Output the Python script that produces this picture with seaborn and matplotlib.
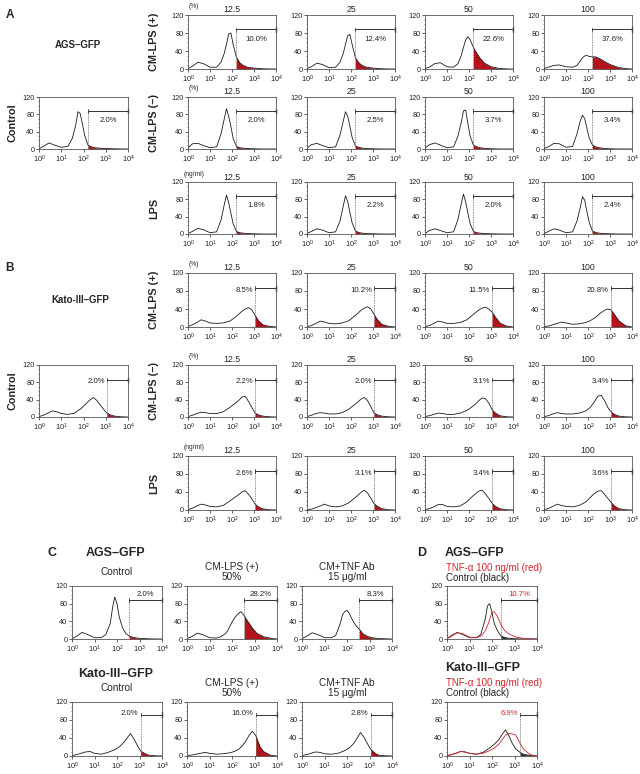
import numpy as np
import matplotlib.pyplot as plt
import seaborn as sns
from matplotlib.ticker import LogLocator, NullFormatter, MultipleLocator

# GFP fluorescence (log10 decade) at which each histogram was read
grid_a = [0.0, 0.2, 0.45, 0.7, 1.0, 1.3, 1.5, 1.65, 1.75, 1.85, 1.95, 2.05, 2.2, 2.35, 2.5, 2.7, 3.0, 3.4, 3.8, 4.0]
grid_b = [0.0, 0.2, 0.4, 0.6, 0.8, 1.0, 1.3, 1.6, 1.9, 2.1, 2.3, 2.45, 2.6, 2.75, 2.9, 3.05, 3.2, 3.4, 3.7, 4.0]
grid_c = [0.0, 0.2, 0.45, 0.7, 1.0, 1.3, 1.5, 1.7, 1.8, 1.9, 2.0, 2.1, 2.25, 2.4, 2.55, 2.7, 2.9, 3.1, 3.4, 3.8, 4.0]
grid_k = [0.0, 0.2, 0.4, 0.6, 0.8, 1.0, 1.3, 1.6, 1.9, 2.1, 2.3, 2.45, 2.6, 2.75, 2.9, 3.05, 3.25, 3.4, 3.7, 4.0]

doses = ['12.5', '25', '50', '100']

# A: AGS-GFP, cell counts (%)
a_control = [1, 6, 14, 9, 4, 6, 25, 55, 86, 82, 58, 32, 9, 5, 3, 2, 1, 0.5, 0, 0]
a_cm_pos = [
    [1, 6, 15, 12, 4, 4, 15, 35, 55, 78, 80, 55, 26, 14, 8, 4, 2, 0.5, 0, 0],
    [1, 5, 13, 10, 3, 4, 15, 35, 55, 74, 77, 55, 25, 14, 8, 4, 2, 0.5, 0, 0],
    [1, 4, 12, 14, 5, 4, 12, 30, 48, 65, 72, 65, 48, 35, 24, 13, 5, 1, 0, 0],
    [1, 4, 8, 9, 5, 4, 8, 18, 25, 29, 30, 28, 27, 27, 24, 18, 10, 3, 0.5, 0],
]
a_cm_neg = [
    [2, 12, 13, 8, 3, 5, 35, 70, 93, 75, 52, 25, 6, 3, 2, 1, 0.5, 0, 0, 0],
    [2, 10, 13, 8, 3, 5, 32, 65, 86, 76, 52, 27, 7, 4, 2, 1, 0.5, 0, 0, 0],
    [2, 10, 14, 9, 3, 5, 30, 62, 88, 90, 58, 30, 9, 5, 3, 1.5, 0.5, 0, 0, 0],
    [1, 5, 13, 12, 4, 6, 35, 65, 78, 70, 48, 26, 9, 5, 3, 1.5, 0.5, 0, 0, 0],
]
a_lps = [
    [1, 6, 13, 10, 3, 5, 32, 68, 90, 72, 48, 24, 6, 3, 2, 1, 0.5, 0, 0, 0],
    [1, 6, 12, 9, 3, 5, 30, 65, 88, 75, 50, 26, 7, 3.5, 2, 1, 0.5, 0, 0, 0],
    [1, 8, 12, 8, 3, 5, 34, 70, 92, 74, 48, 24, 6, 3, 2, 1, 0.5, 0, 0, 0],
    [1, 6, 12, 9, 3, 5, 30, 62, 86, 78, 52, 28, 7, 3.5, 2, 1, 0.5, 0, 0, 0],
]
a_control_pct = '2.0%'
a_cm_pos_pct = ['10.0%', '12.4%', '22.6%', '37.6%']
a_cm_neg_pct = ['2.0%', '2.5%', '3.7%', '3.4%']
a_lps_pct = ['1.8%', '2.2%', '2.0%', '2.4%']

# B: Kato-III-GFP
b_control = [1, 4, 9, 14, 12, 8, 6, 9, 20, 30, 40, 45, 38, 28, 18, 9, 5, 2, 0.5, 0]
b_cm_pos = [
    [1, 5, 10, 16, 13, 9, 8, 9, 13, 20, 28, 35, 40, 43, 38, 26, 14, 5, 1.5, 0],
    [1, 3, 8, 13, 11, 8, 7, 9, 14, 22, 30, 37, 42, 45, 40, 28, 16, 6, 1.5, 0],
    [1, 3, 8, 13, 11, 8, 8, 10, 16, 24, 32, 38, 42, 44, 40, 33, 22, 9, 2, 0],
    [1, 2, 5, 8, 11, 9, 6, 7, 10, 14, 20, 26, 32, 37, 40, 38, 28, 14, 3, 0],
]
b_cm_neg = [
    [1, 4, 8, 11, 10, 8, 8, 12, 22, 30, 38, 46, 48, 36, 22, 9, 5, 2, 0.5, 0],
    [1, 4, 8, 10, 9, 7, 7, 10, 18, 26, 34, 41, 45, 38, 24, 9, 5, 2, 0.5, 0],
    [1, 3, 6, 9, 8, 6, 6, 9, 15, 22, 30, 38, 44, 42, 32, 17, 9, 3, 0.5, 0],
    [1, 3, 7, 10, 8, 7, 7, 9, 14, 22, 36, 48, 50, 38, 22, 12, 6, 2, 0.5, 0],
]
b_lps = [
    [1, 4, 9, 13, 11, 8, 7, 10, 20, 27, 34, 40, 43, 35, 25, 13, 7, 2.5, 0.5, 0],
    [1, 2, 5, 9, 13, 9, 7, 9, 16, 24, 32, 39, 44, 38, 26, 14, 8, 3, 0.5, 0],
    [1, 3, 7, 12, 12, 8, 7, 9, 18, 28, 36, 42, 44, 36, 26, 15, 8, 3, 0.5, 0],
    [1, 3, 8, 13, 10, 8, 7, 10, 18, 28, 37, 42, 43, 35, 26, 17, 9, 3, 0.5, 0],
]
b_control_pct = '2.0%'
b_cm_pos_pct = ['8.5%', '10.2%', '11.5%', '20.8%']
b_cm_neg_pct = ['2.2%', '2.0%', '3.1%', '3.4%']
b_lps_pct = ['2.6%', '3.1%', '3.4%', '3.6%']

# C: control / CM-LPS(+) 50% / CM + TNF Ab
c_titles = ['Control', 'CM-LPS (+)\n50%', 'CM+TNF Ab\n15 μg/ml']
c_ags = [
    [1, 6, 15, 10, 3, 3, 10, 35, 70, 95, 80, 50, 25, 12, 6, 4, 2, 1, 0.5, 0, 0],
    [1, 5, 13, 10, 3, 2, 5, 12, 18, 28, 38, 47, 56, 62, 52, 40, 25, 13, 5, 1, 0],
    [1, 6, 14, 10, 3, 3, 8, 35, 55, 62, 65, 58, 42, 30, 22, 12, 6, 3, 1, 0.3, 0],
]
c_ags_pct = ['2.0%', '28.2%', '8.3%']
c_kato = [
    [1, 3, 6, 9, 10, 6, 4, 8, 14, 20, 30, 40, 50, 38, 24, 11, 5, 2, 0.5, 0],
    [1, 2, 4, 6, 8, 6, 4, 5, 7, 10, 15, 22, 32, 45, 55, 46, 20, 10, 2, 0],
    [1, 3, 6, 9, 8, 5, 4, 6, 12, 18, 28, 40, 52, 42, 28, 15, 6, 2, 0.5, 0],
]
c_kato_pct = ['2.0%', '16.0%', '2.8%']

# D: TNF-alpha 100 ng/ml (red) vs control (black)
d_ags_ctrl = [1, 8, 15, 10, 3, 3, 10, 45, 75, 80, 60, 35, 18, 7, 4, 2, 1, 0.5, 0, 0, 0]
d_ags_tnf = [1, 6, 14, 12, 4, 3, 6, 18, 30, 45, 60, 62, 50, 32, 20, 13, 8, 4, 1.5, 0.3, 0]
d_kato_ctrl = [1, 3, 6, 10, 9, 6, 4, 8, 18, 26, 36, 48, 58, 45, 28, 16, 8, 4, 1, 0]
d_kato_tnf = [1, 3, 6, 10, 9, 6, 4, 6, 12, 18, 26, 36, 46, 50, 49, 47, 28, 15, 3, 0]
d_ags_pct = '10.7%'
d_kato_pct = '6.9%'

# gate positions (log10)
gate_a, gate_b, gate_c_ags, gate_d_ags, gate_c_kato, gate_d_kato = 2.2, 3.05, 2.55, 2.4, 3.05, 3.25

RED = '#b5121b'
TXT_RED = '#d2232a'

sns.set_theme(style='ticks')
plt.rcParams['font.family'] = ['Liberation Sans', 'DejaVu Sans']
plt.rcParams['mathtext.default'] = 'regular'
plt.rcParams['mathtext.fontset'] = 'custom'
plt.rcParams['mathtext.rm'] = 'Liberation Sans'

W, H = 640, 774
fig = plt.figure(figsize=(W / 100, H / 100), dpi=100)


def add_ax(x0, y0, w, y1):
    return fig.add_axes([x0 / W, 1 - y1 / H, w / W, (y1 - y0) / H])


def ftext(x, y, s, **kw):
    fig.text(x / W, 1 - y / H, s, **kw)


def style(ax):
    ax.set_xscale('log')
    ax.set_xlim(1, 1e4)
    ax.set_ylim(0, 120)
    ax.set_yticks([0, 40, 80, 120])
    ax.set_xticks([1, 10, 100, 1000, 10000])
    ax.set_xticklabels([f'$10^{{{i}}}$' for i in range(5)])
    ax.xaxis.set_minor_locator(LogLocator(base=10, subs=np.arange(2, 10)))
    ax.xaxis.set_minor_formatter(NullFormatter())
    ax.yaxis.set_minor_locator(MultipleLocator(10))
    ax.tick_params(labelsize=5.3, length=2, width=0.5, pad=1.2, colors='#222')
    ax.tick_params(which='minor', length=1, width=0.4)
    for s in ax.spines.values():
        s.set_linewidth(0.6)
        s.set_color('#555')
    ax.set_xlabel('')
    ax.set_ylabel('')


def gate_marks(ax, gate, pct, bar_y, txt_y, where, color='#222'):
    g = 10 ** gate
    ax.plot([g, g], [0, bar_y], ls=(0, (1, 1)), color='#666', lw=0.6)
    ax.plot([g, 1e4], [bar_y, bar_y], color='#333', lw=0.7)
    ax.plot([1e4, 1e4], [bar_y - 5, bar_y + 5], color='k', lw=1.0, clip_on=False)
    ax.plot([g, g], [bar_y - 4, bar_y + 4], color='#333', lw=0.6)
    if where == 'center':
        ax.text(10 ** ((gate + 4) / 2), txt_y, pct, ha='center', va='center', fontsize=5.6, color=color)
    else:
        ax.text(10 ** (gate - 0.1), txt_y, pct, ha='right', va='center', fontsize=5.6, color=color)


def histo(ax, grid, counts, gate, pct, bar_y, txt_y, where):
    lx = np.array(grid)
    x, y = 10 ** lx, np.array(counts, dtype=float)
    sns.lineplot(x=x, y=y, ax=ax, color='k', lw=0.6, estimator=None)
    ax.fill_between(x, y, where=lx >= gate - 1e-9, color=RED, lw=0)
    style(ax)
    gate_marks(ax, gate, pct, bar_y, txt_y, where)


def overlay(ax, grid, ctrl, tnf, gate, pct, bar_y, txt_y, where):
    lx = np.array(grid)
    x = 10 ** lx
    yc, yt = np.array(ctrl, dtype=float), np.array(tnf, dtype=float)
    ax.fill_between(x, yc, where=lx >= gate - 1e-9, color='#333', lw=0)
    sns.lineplot(x=x, y=yc, ax=ax, color='k', lw=0.6, estimator=None)
    sns.lineplot(x=x, y=yt, ax=ax, color=TXT_RED, lw=0.6, estimator=None)
    style(ax)
    gate_marks(ax, gate, pct, bar_y, txt_y, where, color=TXT_RED)


# ---- panel A / B grids ----
cols = [188, 307, 425, 544]
aw = 88


def block(rows, data, pcts, gate, bar_y, txt_y, where, units, row_names):
    for r, ((top, bot), curves, pc, unit, name) in enumerate(zip(rows, data, pcts, units, row_names)):
        for c, x0 in enumerate(cols):
            ax = add_ax(x0, top, aw, bot)
            histo(ax, grid_b if gate == gate_b else grid_a, curves[c], gate, pc[c], bar_y, txt_y, where)
            ftext(x0 + aw / 2, top - 5, doses[c], ha='center', va='center', fontsize=6.3)
        ftext(cols[0] + 6, top - 8, unit, ha='center', va='center', fontsize=4.8)
        ftext(154, (top + bot) / 2, name, rotation=90, ha='center', va='center', fontsize=7.8, weight='bold')


rows_a = [(15, 69), (97, 149), (182, 234)]
block(rows_a, [a_cm_pos, a_cm_neg, a_lps], [a_cm_pos_pct, a_cm_neg_pct, a_lps_pct], gate_a, 88, 66,
      'center', ['(%)', '(%)', '(ng/ml)'], ['CM-LPS (+)', 'CM-LPS (–)', 'LPS'])
ax = add_ax(39, 97, 89, 149)
histo(ax, grid_a, a_control, gate_a, a_control_pct, 88, 66, 'center')
ftext(12, 123, 'Control', rotation=90, ha='center', va='center', fontsize=7.8, weight='bold')
ftext(10, 15, 'A', ha='center', va='center', fontsize=8.5, weight='bold')
ftext(78, 45, 'AGS–GFP', ha='center', va='center', fontsize=7, weight='bold')

rows_b = [(273, 327), (365, 417), (456, 510)]
block(rows_b, [b_cm_pos, b_cm_neg, b_lps], [b_cm_pos_pct, b_cm_neg_pct, b_lps_pct], gate_b, 86, 82,
      'left', ['(%)', '(%)', '(ng/ml)'], ['CM-LPS (+)', 'CM-LPS (–)', 'LPS'])
ax = add_ax(39, 365, 89, 417)
histo(ax, grid_b, b_control, gate_b, b_control_pct, 86, 82, 'left')
ftext(12, 391, 'Control', rotation=90, ha='center', va='center', fontsize=7.8, weight='bold')
ftext(10, 268, 'B', ha='center', va='center', fontsize=8.5, weight='bold')
ftext(80, 300, 'Kato-III–GFP', ha='center', va='center', fontsize=7, weight='bold')

# ---- panel C / D ----
c_cols = [72, 187, 302]
cw = 90
for c, x0 in enumerate(c_cols):
    ax = add_ax(x0, 586, cw, 639)
    histo(ax, grid_c, c_ags[c], gate_c_ags, c_ags_pct[c], 88, 100, 'center')
    ftext(x0 + cw / 2, 572, c_titles[c], ha='center', va='center', fontsize=7.2, linespacing=0.95)
    ax = add_ax(x0, 702, cw, 756)
    histo(ax, grid_k, c_kato[c], gate_c_kato, c_kato_pct[c], 92, 95, 'left')
    ftext(x0 + cw / 2, 688, c_titles[c], ha='center', va='center', fontsize=7.2, linespacing=0.95)

ax = add_ax(447, 586, cw, 639)
overlay(ax, grid_c, d_ags_ctrl, d_ags_tnf, gate_d_ags, d_ags_pct, 88, 100, 'center')
ax = add_ax(447, 702, cw, 756)
overlay(ax, grid_k, d_kato_ctrl, d_kato_tnf, gate_d_kato, d_kato_pct, 92, 95, 'left')

ftext(52, 553, 'C', ha='center', va='center', fontsize=9, weight='bold')
ftext(116, 553, 'AGS–GFP', ha='center', va='center', fontsize=9, weight='bold')
ftext(116, 674, 'Kato-III–GFP', ha='center', va='center', fontsize=9, weight='bold')
ftext(422, 553, 'D', ha='center', va='center', fontsize=9, weight='bold')
for y0, name in [(553, 'AGS–GFP'), (668, 'Kato-III–GFP')]:
    ftext(445, y0, name, ha='left', va='center', fontsize=9, weight='bold')
    ftext(446, y0 + 15, 'TNF-α 100 ng/ml (red)', ha='left', va='center', fontsize=7, color=TXT_RED)
    ftext(446, y0 + 25, 'Control (black)', ha='left', va='center', fontsize=7)

fig.savefig('out.png', dpi=100)
